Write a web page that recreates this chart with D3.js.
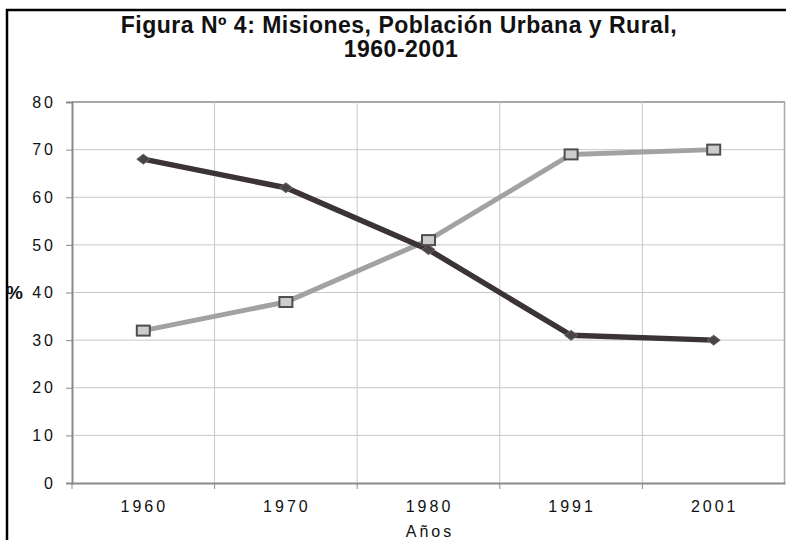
<!DOCTYPE html>
<html>
<head>
<meta charset="utf-8">
<script src="https://cdn.jsdelivr.net/npm/d3@7"></script>
<style>
  body { margin: 0; background: #fff; }
  svg { display: block; font-family: "Liberation Sans", Arial, sans-serif; }
</style>
</head>
<body>
<svg id="chart" width="786" height="540"></svg>
<script>
// data
var years = ["1960", "1970", "1980", "1991", "2001"];
var rural = [68, 62, 49, 31, 30];
var urbana = [32, 38, 51, 69, 70];
var yTicks = [0, 10, 20, 30, 40, 50, 60, 70, 80];

var width = 786, height = 540;
var margin = {left: 72, right: 1, top: 102, bottom: 57};

var svg = d3.select("#chart");

// outer frame (cut off on the right and bottom)
svg.append("path")
  .attr("d", "M7,545 L7,10 L790,10")
  .attr("fill", "none")
  .attr("stroke", "#000")
  .attr("stroke-width", 2.5);

var x = d3.scaleBand()
  .domain(years)
  .range([margin.left, width - margin.right]);

var y = d3.scaleLinear()
  .domain([0, 80])
  .range([height - margin.bottom, margin.top]);

// gridlines
var grid = svg.append("g");
grid.selectAll(".hg")
  .data(yTicks.filter(function(d) { return d > 0; }))
  .enter().append("line")
  .attr("x1", margin.left).attr("x2", width - margin.right)
  .attr("y1", function(d) { return y(d); })
  .attr("y2", function(d) { return y(d); })
  .attr("stroke", function(d) { return d == 80 ? "#a8a8a8" : "#c8c8c8"; })
  .attr("stroke-width", function(d) { return d == 80 ? 2 : 1; });

grid.selectAll(".vg")
  .data(years.slice(1).concat(["end"]))
  .enter().append("line")
  .attr("x1", function(d) { return d == "end" ? x.range()[1] - 0.5 : x(d); })
  .attr("x2", function(d) { return d == "end" ? x.range()[1] - 0.5 : x(d); })
  .attr("y1", y(80)).attr("y2", y(0))
  .attr("stroke", function(d) { return d == "end" ? "#a8a8a8" : "#c8c8c8"; })
  .attr("stroke-width", function(d) { return d == "end" ? 1.5 : 1; });

// y axis
var yAxis = svg.append("g")
  .attr("transform", "translate(" + margin.left + ",0)")
  .call(d3.axisLeft(y).tickValues(yTicks).tickSize(6).tickPadding(10));
yAxis.select(".domain").attr("stroke", "#8a8a8a").attr("stroke-width", 2);
yAxis.selectAll(".tick line").attr("stroke", "#8a8a8a");
yAxis.selectAll("text")
  .attr("font-size", 16)
  .attr("letter-spacing", 3)
  .attr("fill", "#111")
  .attr("font-family", "Liberation Sans, Arial, sans-serif");

// x axis
var xAxis = svg.append("g")
  .attr("transform", "translate(0," + y(0) + ")")
  .call(d3.axisBottom(x).tickSize(0).tickPadding(18));
xAxis.select(".domain").attr("stroke", "#8a8a8a").attr("stroke-width", 2);
xAxis.selectAll("text")
  .attr("font-size", 16)
  .attr("letter-spacing", 3)
  .attr("dx", 1)
  .attr("fill", "#111")
  .attr("font-family", "Liberation Sans, Arial, sans-serif");

// x tick marks at category boundaries
xAxis.selectAll(".bt")
  .data(years)
  .enter().append("line")
  .attr("x1", function(d) { return x(d); })
  .attr("x2", function(d) { return x(d); })
  .attr("y1", 0).attr("y2", 6)
  .attr("stroke", "#8a8a8a");

var cx = function(d, i) { return x(years[i]) + x.bandwidth() / 2; };

var line = d3.line()
  .x(function(d, i) { return cx(d, i); })
  .y(function(d) { return y(d); });

// Urbana (light)
svg.append("path")
  .datum(urbana)
  .attr("d", line)
  .attr("fill", "none")
  .attr("stroke", "#a2a2a2")
  .attr("stroke-width", 5);

// Rural (dark)
svg.append("path")
  .datum(rural)
  .attr("d", line)
  .attr("fill", "none")
  .attr("stroke", "#3b3337")
  .attr("stroke-width", 5.5);

svg.selectAll(".dia")
  .data(rural)
  .enter().append("path")
  .attr("transform", function(d, i) { return "translate(" + cx(d, i) + "," + y(d) + ")"; })
  .attr("d", "M-6.5,0 L0,-5 L6.5,0 L0,5 Z")
  .attr("fill", "#4a4347")
  .attr("stroke", "#6a6a6a")
  .attr("stroke-width", 1);

svg.selectAll(".sq")
  .data(urbana)
  .enter().append("rect")
  .attr("x", function(d, i) { return cx(d, i) - 6.5; })
  .attr("y", function(d) { return y(d) - 5; })
  .attr("width", 13)
  .attr("height", 10)
  .attr("fill", "#cdcdcd")
  .attr("stroke", "#4e4e4e")
  .attr("stroke-width", 2);

// title
svg.append("text")
  .attr("x", 399).attr("y", 33)
  .attr("text-anchor", "middle")
  .attr("font-size", 23)
  .attr("font-weight", "700")
  .attr("letter-spacing", 0.5)
  .attr("fill", "#111")
  .text("Figura Nº 4: Misiones, Población Urbana y Rural,");

svg.append("text")
  .attr("x", 401).attr("y", 57)
  .attr("text-anchor", "middle")
  .attr("font-size", 23)
  .attr("font-weight", "700")
  .attr("letter-spacing", 0.5)
  .attr("fill", "#111")
  .text("1960-2001");

// axis titles
svg.append("text")
  .attr("x", 6).attr("y", 299)
  .attr("font-size", 19)
  .attr("font-weight", "700")
  .attr("fill", "#111")
  .text("%");

svg.append("text")
  .attr("x", 430).attr("y", 537)
  .attr("text-anchor", "middle")
  .attr("font-size", 16)
  .attr("letter-spacing", 3)
  .attr("fill", "#111")
  .text("Años");
</script>
</body>
</html>
